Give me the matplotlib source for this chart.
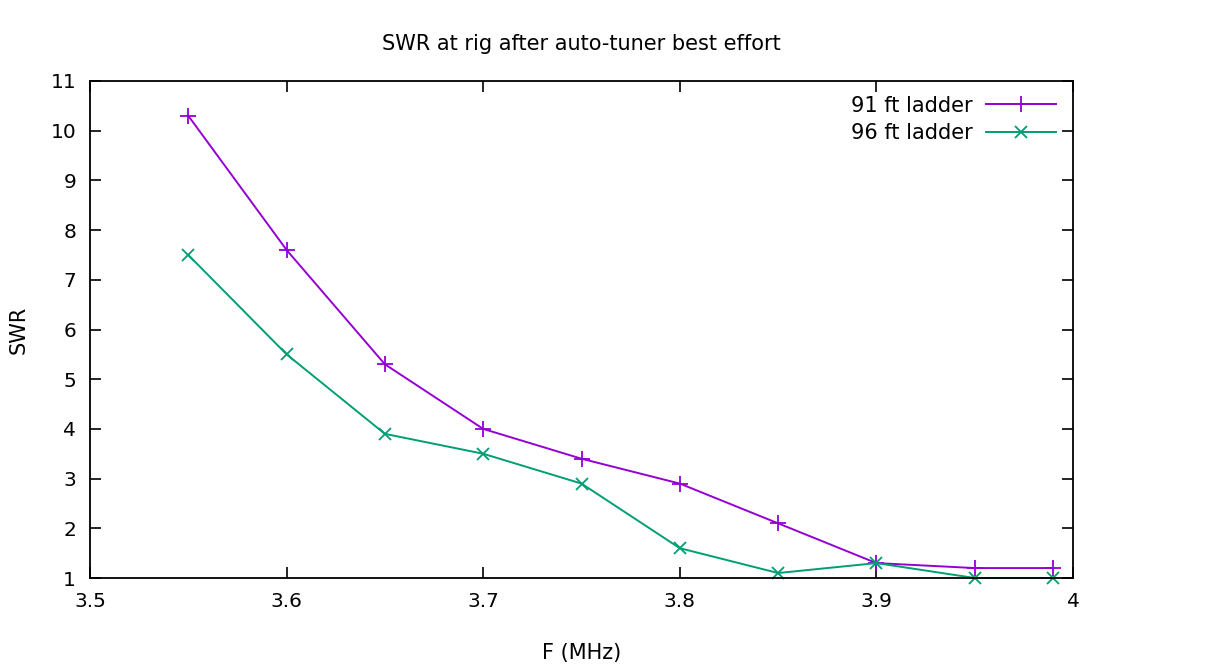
import numpy as np
import matplotlib
matplotlib.use('Agg')
import matplotlib.pyplot as plt

freq = [3.55, 3.60, 3.65, 3.70, 3.75, 3.80, 3.85, 3.90, 3.95, 3.99]
swr_91 = [10.3, 7.6, 5.3, 4.0, 3.4, 2.9, 2.1, 1.3, 1.2, 1.2]
swr_96 = [7.5, 5.5, 3.9, 3.5, 2.9, 1.6, 1.1, 1.3, 1.0, 1.0]

plt.rcParams['font.family'] = ['DejaVu Sans']
plt.rcParams['font.size'] = 14

fig = plt.figure(figsize=(12.25, 6.66), dpi=100)
ax = fig.add_axes([90 / 1225, 88 / 666, (1073 - 90) / 1225, (578 - 81) / 666])

ax.plot(freq, swr_91, color='#9400d3', marker='+', markersize=12, mew=1.3,
        lw=1.4, label='91 ft ladder', clip_on=False)
ax.plot(freq, swr_96, color='#009e73', marker='x', markersize=9, mew=1.3,
        lw=1.4, label='96 ft ladder', clip_on=False)

ax.set_xlim(3.5, 4.0)
ax.set_ylim(1, 11)
ax.set_xticks(np.arange(3.5, 4.01, 0.1))
ax.set_xticklabels(['3.5', '3.6', '3.7', '3.8', '3.9', '4'])
ax.set_yticks(range(1, 12))
ax.tick_params(direction='in', length=8, width=1.2, top=True, right=True,
               pad=10, labelsize=14.5)
for s in ax.spines.values():
    s.set_linewidth(1.3)

ax.set_xlabel('F (MHz)', labelpad=23, fontsize=15)
ax.set_ylabel('SWR', labelpad=16, fontsize=15)
ax.set_title('SWR at rig after auto-tuner best effort', pad=22, fontsize=15)

ax.legend(loc='upper right', frameon=False, markerfirst=False, handlelength=3.4,
          bbox_to_anchor=(0.998, 1.0), borderaxespad=0.3, labelspacing=0.35,
          fontsize=15, handletextpad=0.6)

fig.savefig('out.png', dpi=100)
